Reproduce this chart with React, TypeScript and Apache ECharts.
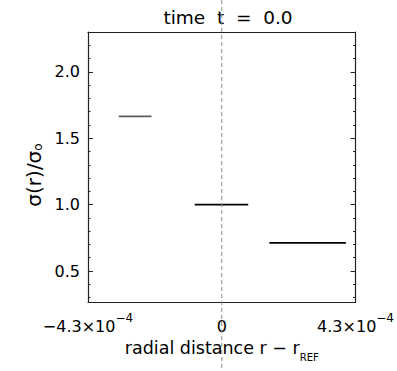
import React, { useEffect, useRef } from "react";
import * as echarts from "echarts";

const segStart = [-3.31e-4, -8.7e-5, 1.53e-4];
const segEnd = [-2.26e-4, 8.5e-5, 3.99e-4];
const segValue = [1.664, 1.0, 0.712];
const segColor = ["#5a5a5a", "#000000", "#000000"];

const xMin = -4.3e-4;
const xMax = 4.3e-4;
const yMin = 0.2667;
const yMax = 2.3;
const yMajor = [0.5, 1.0, 1.5, 2.0];

const titleText = "time  t  =  0.0";
const yName = "{a|σ(r)/σ}{s|o}";
const xName = "{a|radial distance r − r}{s|REF}";

const FONT = "DejaVu Sans";

export default function App() {
  const ref = useRef<HTMLDivElement>(null);
  useEffect(() => {
    document.body.style.margin = "0";
    const chart = echarts.init(ref.current!, null, { renderer: "svg" });
    const axisLineStyle = { color: "#222", width: 1.2 };
    const yAxisBase = {
      type: "value",
      min: yMin,
      max: yMax,
      splitNumber: 4,
      splitLine: { show: false },
      axisLine: { show: true, onZero: false, lineStyle: axisLineStyle },
      axisTick: { show: true, inside: true, length: 5, lineStyle: { color: "#222", width: 1 } },
      minorTick: { show: true, splitNumber: 5, length: 2.5, lineStyle: { color: "#222", width: 1 } },
      minorSplitLine: { show: false },
    };
    const xLabel = (v: number) => {
      if (Math.abs(v) < 1e-9) return "{a|0}";
      const sign = v < 0 ? "−" : "";
      return `{a|${sign}4.3×10}{s|−4}`;
    };
    const option: any = {
      animation: false,
      backgroundColor: "#ffffff",
      title: {
        text: titleText,
        left: 223,
        top: 3,
        textAlign: "center",
        textStyle: { fontFamily: FONT, fontSize: 18.5, fontWeight: "normal", color: "#000" },
      },
      grid: { left: 88, right: 38, top: 32, bottom: 69 },
      xAxis: [
        {
          type: "value",
          min: xMin,
          max: xMax,
          interval: 4.3e-4,
          position: "bottom",
          splitLine: { show: false },
          axisLine: { show: true, onZero: false, lineStyle: axisLineStyle },
          axisTick: { show: false },
          axisLabel: {
            show: true,
            margin: 10,
            formatter: xLabel,
            rich: {
              a: { fontFamily: FONT, fontSize: 16, color: "#000", lineHeight: 22, verticalAlign: "bottom" },
              s: { fontFamily: FONT, fontSize: 12, color: "#000", lineHeight: 14, verticalAlign: "top" },
            },
          },
          name: xName,
          nameLocation: "middle",
          nameGap: 34,
          nameTextStyle: {
            rich: {
              a: { fontFamily: FONT, fontSize: 17.5, color: "#000", lineHeight: 22, verticalAlign: "top" },
              s: { fontFamily: FONT, fontSize: 10, color: "#000", lineHeight: 28, verticalAlign: "top", padding: [14, 0, 0, 0] },
            },
          },
        },
        {
          type: "value",
          min: xMin,
          max: xMax,
          interval: 4.3e-4,
          position: "top",
          splitLine: { show: false },
          axisLine: { show: true, onZero: false, lineStyle: axisLineStyle },
          axisTick: { show: false },
          axisLabel: { show: false },
        },
      ],
      yAxis: [
        {
          ...yAxisBase,
          position: "left",
          name: yName,
          nameLocation: "middle",
          nameRotate: 90,
          nameGap: 41,
          nameTextStyle: {
            padding: [0, 16, 0, 0],
            rich: {
              a: { fontFamily: FONT, fontSize: 20, color: "#000", lineHeight: 24, verticalAlign: "bottom" },
              s: { fontFamily: FONT, fontSize: 12, color: "#000", lineHeight: 12, verticalAlign: "bottom" },
            },
          },
          axisLabel: {
            show: true,
            margin: 8,
            fontFamily: FONT,
            fontSize: 16,
            color: "#000",
            formatter: (v: number) => {
              const hit = yMajor.find((m) => Math.abs(m - v) < 1e-6);
              return hit !== undefined ? hit.toFixed(1) : "";
            },
          },
        },
        {
          ...yAxisBase,
          position: "right",
          axisLabel: { show: false },
        },
      ],
      series: segValue.map((v, i) => ({
        type: "line",
        xAxisIndex: 0,
        yAxisIndex: 0,
        symbol: "none",
        silent: true,
        lineStyle: { color: segColor[i], width: 1.8 },
        data: [
          [segStart[i], v],
          [segEnd[i], v],
        ],
      })),
    };
    chart.setOption(option);
    const x0 = chart.convertToPixel({ xAxisIndex: 0 }, 0) as number;
    chart.setOption({
      graphic: [
        {
          type: "line",
          z: 100,
          silent: true,
          shape: { x1: x0, y1: 0, x2: x0, y2: 371 },
          style: { stroke: "#8a8a8a", lineWidth: 1, lineDash: [4, 3] },
        },
      ],
    });
    return () => chart.dispose();
  }, []);
  return (
    <div
      ref={ref}
      style={{ position: "absolute", left: 0, top: 0, width: 397, height: 371 }}
    />
  );
}
